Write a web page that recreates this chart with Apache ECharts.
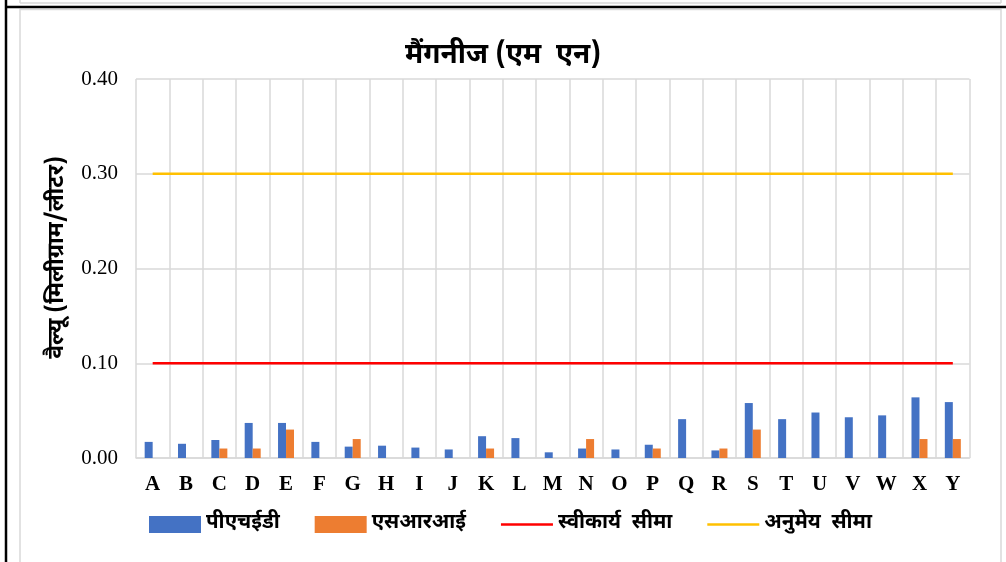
<!DOCTYPE html>
<html>
<head>
<meta charset="utf-8">
<script src="https://cdn.jsdelivr.net/npm/echarts@6/dist/echarts.min.js"></script>
<style>
html,body{margin:0;padding:0;background:#fff;}
#chart{width:1006px;height:562px;}
</style>
</head>
<body>
<div id="chart"></div>
<script>
const categories = ['A','B','C','D','E','F','G','H','I','J','K','L','M','N','O','P','Q','R','S','T','U','V','W','X','Y'];
const phedValues = [0.017,0.015,0.019,0.037,0.037,0.017,0.012,0.013,0.011,0.009,0.023,0.021,0.006,0.010,0.009,0.014,0.041,0.008,0.058,0.041,0.048,0.043,0.045,0.064,0.059];
const sriValues  = [null,null,0.010,0.010,0.030,null,0.020,null,null,null,0.010,null,null,0.020,null,0.010,null,0.010,0.030,null,null,null,null,0.020,0.020];
const acceptableLimit = categories.map(() => 0.1);
const permissibleLimit = categories.map(() => 0.3);
const seriesNames = ['पीएचईडी','एसआरआई','स्वीकार्य  सीमा','अनुमेय  सीमा'];
const titleText = 'मैंगनीज (एम  एन)';
const yAxisTitle = 'वैल्यू (मिलीग्राम/लीटर)';

const devFont = "'Noto Sans Devanagari','Noto Sans','Lohit Devanagari',sans-serif";
const serif = "'Liberation Serif','Times New Roman',serif";
const chart = echarts.init(document.getElementById('chart'), null, {renderer:'canvas'});
const grid = '#d9d9d9';
const lineIcon = 'path://M0,0L52,0L52,2.5L0,2.5Z';
chart.setOption({
  animation:false,
  title:{text:titleText,left:'center',top:39,textStyle:{fontFamily:devFont,fontWeight:'bold',fontSize:28,color:'#000'}},
  grid:{left:136,right:36.5,top:79,bottom:104},
  legend:{
    top:514,left:149,padding:0,itemWidth:52,itemHeight:17,itemGap:35,
    textStyle:{fontFamily:devFont,fontWeight:'bold',fontSize:20.5,color:'#000'},
    data:[{name:seriesNames[0],icon:'rect'},{name:seriesNames[1],icon:'rect'},{name:seriesNames[2],icon:lineIcon},{name:seriesNames[3],icon:lineIcon}]
  },
  graphic:[
    {type:'line',shape:{x1:6,y1:0,x2:6,y2:562},style:{stroke:'#000',lineWidth:2.5},z:100},
    {type:'line',shape:{x1:6,y1:7,x2:1006,y2:7},style:{stroke:'#000',lineWidth:2.5},z:100},
    {type:'line',shape:{x1:20,y1:3,x2:1001,y2:3},style:{stroke:grid,lineWidth:1.5},z:50},
    {type:'line',shape:{x1:20,y1:0,x2:20,y2:3},style:{stroke:grid,lineWidth:1.5},z:50},
    {type:'line',shape:{x1:1001,y1:0,x2:1001,y2:3},style:{stroke:grid,lineWidth:1.5},z:50},
    {type:'rect',shape:{x:20,y:9.5,width:981,height:560},style:{fill:'none',stroke:grid,lineWidth:1.5},z:50}
  ],
  xAxis:{
    type:'category',data:categories,boundaryGap:true,
    axisLine:{show:true,lineStyle:{color:grid,width:1.5}},
    axisTick:{show:false},
    splitLine:{show:true,lineStyle:{color:grid,width:1.5}},
    axisLabel:{fontFamily:serif,fontWeight:'bold',fontSize:21,color:'#000',margin:16,interval:0}
  },
  yAxis:{
    type:'value',min:0,max:0.4,interval:0.1,
    name:yAxisTitle,nameLocation:'middle',nameGap:61,nameRotate:90,
    nameTextStyle:{fontFamily:devFont,fontWeight:'bold',fontSize:23,color:'#000',padding:[0,0,0,22]},
    axisLine:{show:false},axisTick:{show:false},
    splitLine:{show:true,lineStyle:{color:grid,width:1.5}},
    axisLabel:{fontFamily:serif,fontSize:21,color:'#000',margin:18,formatter:v=>v.toFixed(2)}
  },
  series:[
    {name:seriesNames[0],type:'bar',data:phedValues,barWidth:8,barGap:'0%',itemStyle:{color:'#4472C4'}},
    {name:seriesNames[1],type:'bar',data:sriValues,barWidth:8,barGap:'0%',itemStyle:{color:'#ED7D31'}},
    {name:seriesNames[2],type:'line',data:acceptableLimit,symbol:'none',lineStyle:{color:'#FF0000',width:2.5},itemStyle:{color:'#FF0000'}},
    {name:seriesNames[3],type:'line',data:permissibleLimit,symbol:'none',lineStyle:{color:'#FFC000',width:2.5},itemStyle:{color:'#FFC000'}}
  ]
});
</script>
</body>
</html>
